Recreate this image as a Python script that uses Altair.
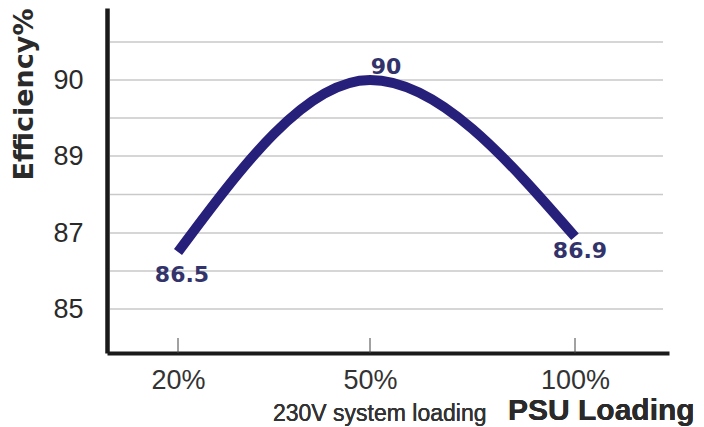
import altair as alt
import pandas as pd

# data
loading = [20, 50, 100]
efficiency = [86.5, 90, 86.9]
labels = ["86.5", "90", "86.9"]
x_ticks = [20, 50, 100]
x_tick_labels = ["20%", "50%", "100%"]
y_label_values = [85, 87, 89, 90]
grid_values = [85, 86, 87, 88, 89, 89.5, 90, 90.5]

df = pd.DataFrame({"load": loading, "eff": efficiency, "label": labels, "i": [0, 1, 2]})
grid_df = pd.DataFrame({"g": grid_values})
tick_df = pd.DataFrame({"t": x_ticks})

W, H = 562, 345
LINE = "#27207a"
TXT = "#33336b"

# piecewise scales (the reference axes are not linear)
xscale = alt.Scale(domain=[9, 20, 50, 100, 123], range=[0, 71, 263, 468, W], nice=False, zero=False)
yscale = alt.Scale(domain=[84, 85, 87, 89, 90, 90.95], range=[H, 301, 225, 148, 72, 0], nice=False, zero=False)

label_expr_x = "datum.value == 20 ? '20%' : datum.value == 50 ? '50%' : '100%'"

grid = alt.Chart(grid_df).mark_rule(color="#c9c9c9", strokeWidth=1.5).encode(
    y=alt.Y("g:Q", scale=yscale, axis=alt.Axis(
        values=y_label_values, format="d", title="Efficiency%", grid=False, ticks=False, tickSize=0,
        domain=True, domainWidth=4.5, domainColor="#1a1a1a",
        labelFont="Liberation Sans", labelFontSize=27, labelColor="#2a2a2a", labelPadding=24,
        titleFont="DejaVu Sans", titleFontSize=27, titleFontWeight="bold", titleColor="#2a2a2a",
        titleAngle=270, titleAlign="right", titleBaseline="middle", titleX=-83, titleY=0)),
    x=alt.value(3),
    x2=alt.value(556),
)

ticks = alt.Chart(tick_df).mark_rule(color="#444444", strokeWidth=1).encode(
    x=alt.X("t:Q", scale=xscale, axis=alt.Axis(
        values=x_ticks, labelExpr=label_expr_x, title=None, grid=False, ticks=False, tickSize=0,
        domainWidth=4, domainColor="#1a1a1a",
        labelFont="Liberation Sans", labelFontSize=27, labelColor="#333333", labelPadding=14)),
    y=alt.value(H - 15),
    y2=alt.value(H),
)

line = alt.Chart(df).mark_line(color=LINE, strokeWidth=10, interpolate="monotone", strokeCap="butt").encode(
    x=alt.X("load:Q", scale=xscale),
    y=alt.Y("eff:Q", scale=yscale),
)

offsets = [(4, 23), (16, -13), (5, 14)]
texts = []
for i, (dx, dy) in enumerate(offsets):
    texts.append(
        alt.Chart(df).transform_filter(alt.datum.i == i).mark_text(
            font="DejaVu Sans", fontSize=22, fontWeight="bold", color=TXT,
            dx=dx, dy=dy, baseline="middle", align="center").encode(
            x=alt.X("load:Q", scale=xscale),
            y=alt.Y("eff:Q", scale=yscale),
            text="label:N",
        )
    )

note1 = alt.Chart(tick_df).mark_text(
    font="Liberation Sans", fontSize=23, color="#333333", align="left", baseline="alphabetic",
    text="230V system loading").encode(x=alt.value(166), y=alt.value(413))
note2 = alt.Chart(tick_df).mark_text(
    font="Liberation Sans", fontSize=30, fontWeight="bold", color="#2a2a2a", align="left",
    baseline="alphabetic", text="PSU Loading").encode(x=alt.value(401), y=alt.value(412))

chart = alt.layer(grid, ticks, line, *texts, note1, note2).properties(
    width=W, height=H,
    autosize=alt.AutoSizeParams(type="none"),
    padding={"left": 99, "top": 0, "right": 27, "bottom": 74},
    background="white",
).configure_view(stroke=None).resolve_scale(x="shared", y="shared")

chart.save("out.html", embed_options={"renderer": "svg", "actions": False})
